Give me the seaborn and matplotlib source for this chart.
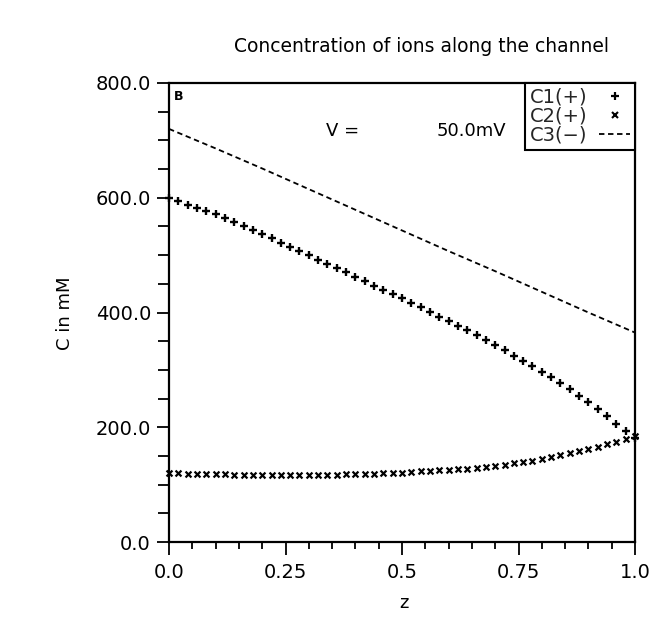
import matplotlib
matplotlib.use("Agg")
import matplotlib.pyplot as plt
from matplotlib.lines import Line2D
from matplotlib.ticker import FixedLocator, MultipleLocator
import numpy as np
import pandas as pd
import seaborn as sns

# ---- data ----
z_pts = [round(0.02 * i, 2) for i in range(51)]
c1_vals = [600, 594, 588, 582, 577, 571, 564, 557, 550, 543,
           536, 529, 521, 514, 507, 500, 492, 485, 477, 470,
           462, 455, 447, 440, 432, 425, 417, 409, 401, 393,
           385, 377, 369, 360, 352, 343, 334, 325, 316, 306,
           297, 287, 277, 266, 255, 244, 231, 219, 206, 193, 182]
c2_vals = [120, 119.5, 119, 119, 118.5, 118, 118, 117.5, 117.5, 117,
           117, 117, 117, 117, 117, 117, 117, 117.5, 117.5, 118,
           118, 118.5, 119, 120, 120.5, 121, 122, 123, 124, 125,
           126, 127, 128, 129.5, 131, 133, 135, 137, 139.5, 142,
           145, 148, 151.5, 155, 158.5, 162, 166, 170.5, 175, 180, 185]
z_line = [0.0, 0.1, 0.2, 0.3, 0.4, 0.5, 0.6, 0.7, 0.8, 0.9, 1.0]
c3_vals = [720, 686, 651, 615, 579, 543, 507, 472, 436, 400, 365]

x_ticks = [0.0, 0.25, 0.5, 0.75, 1.0]
x_ticklabels = ["0.0", "0.25", "0.5", "0.75", "1.0"]
y_ticks = [0, 200, 400, 600, 800]
y_ticklabels = ["0.0", "200.0", "400.0", "600.0", "800.0"]
legend_labels = ["C1(+)", "C2(+)", "C3(\u2212)"]

sns.set_theme(style="white")
plt.rcParams["font.family"] = ["DejaVu Sans"]

W, H = 669, 632
fig = plt.figure(figsize=(W / 100, H / 100), dpi=100)
L, R, T, B = 169, 635, 83, 542
ax = fig.add_axes([L / W, 1 - B / H, (R - L) / W, (B - T) / H])

df1 = pd.DataFrame({"z": z_pts, "C": c1_vals})
df2 = pd.DataFrame({"z": z_pts, "C": c2_vals})
df3 = pd.DataFrame({"z": z_line, "C": c3_vals})

sns.lineplot(data=df3, x="z", y="C", ax=ax, color="black", lw=1.3,
             linestyle=(0, (3, 2)))
sns.scatterplot(data=df1, x="z", y="C", ax=ax, color="black",
                marker="+", s=28, linewidth=1.7, clip_on=False, zorder=3)
sns.scatterplot(data=df2, x="z", y="C", ax=ax, color="black",
                marker="x", s=18, linewidth=1.6, clip_on=False, zorder=3)

ax.set_xlim(0, 1)
ax.set_ylim(0, 800)
ax.xaxis.set_major_locator(FixedLocator(x_ticks))
ax.set_xticklabels(x_ticklabels)
ax.yaxis.set_major_locator(FixedLocator(y_ticks))
ax.set_yticklabels(y_ticklabels)
ax.xaxis.set_minor_locator(MultipleLocator(0.05))
ax.yaxis.set_minor_locator(MultipleLocator(50))
ax.tick_params(axis="both", which="both", direction="out", color="black",
               width=1.3, labelsize=14, labelcolor="black", bottom=True, left=True)
ax.tick_params(axis="x", which="major", length=9, pad=6)
ax.tick_params(axis="x", which="minor", length=5)
ax.tick_params(axis="y", which="major", length=9, pad=4)
ax.tick_params(axis="y", which="minor", length=8)
for s in ax.spines.values():
    s.set_color("black")
    s.set_linewidth(1.6)
ax.set_xlabel("")
ax.set_ylabel("")

handles = [
    Line2D([], [], color="black", linestyle="", marker="+", markersize=6, markeredgewidth=1.6),
    Line2D([], [], color="black", linestyle="", marker="x", markersize=4.5, markeredgewidth=1.5),
    Line2D([], [], color="black", linestyle=(0, (3, 2)), lw=1.3),
]
leg = ax.legend(handles, legend_labels, loc="upper right", bbox_to_anchor=(1, 1),
                borderaxespad=0, markerfirst=False, frameon=True, fancybox=False,
                edgecolor="black", fontsize=14, handlelength=1.6, handletextpad=0.6,
                labelspacing=0.0, borderpad=0.25, framealpha=1)
leg.get_frame().set_linewidth(1.5)

fig.text(422 / W, 1 - 47 / H, "Concentration of ions along the channel",
         ha="center", va="center", fontsize=13.5, color="black")
fig.text(65 / W, 1 - 313 / H, "C in mM", rotation=90, ha="center", va="center",
         fontsize=13, color="black")
fig.text(404 / W, 1 - 603 / H, "z", ha="center", va="center", fontsize=13, color="black")
fig.text(179 / W, 1 - 97 / H, "B", ha="center", va="center", fontsize=9,
         fontweight="bold", color="black")
fig.text(326 / W, 1 - 131 / H, "V =", ha="left", va="center", fontsize=13, color="black")
fig.text(437 / W, 1 - 131 / H, "50.0mV", ha="left", va="center", fontsize=13, color="black")

fig.savefig("out.png", dpi=100)
